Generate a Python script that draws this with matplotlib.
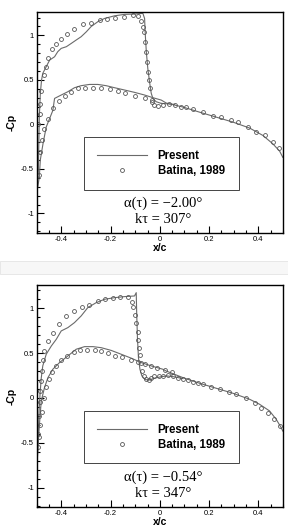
import matplotlib
matplotlib.use("Agg")
from matplotlib import pyplot as plt
from matplotlib.ticker import MultipleLocator
from matplotlib.patches import Rectangle

# ---- panel 1: alpha = -2.00 deg, k tau = 307 deg ----
p1_up_x = [-0.5, -0.498, -0.494, -0.492, -0.49, -0.486, -0.481, -0.476, -0.462, -0.448, -0.428, -0.415,
           -0.401, -0.38, -0.36, -0.34, -0.32, -0.299, -0.279, -0.252, -0.225, -0.184, -0.143, -0.103,
           -0.069, -0.062, -0.059, -0.055, -0.049, -0.042, -0.035, -0.028, -0.015, 0.006]
p1_up_y = [-0.75, -0.69, -0.52, -0.22, 0.08, 0.345, 0.498, 0.573, 0.648, 0.723, 0.76, 0.817,
           0.854, 0.873, 0.91, 0.948, 0.985, 1.04, 1.10, 1.154, 1.19, 1.22, 1.236, 1.24,
           1.247, 1.19, 1.0, 0.817, 0.63, 0.48, 0.35, 0.29, 0.255, 0.236]
p1_lo_x = [-0.5, -0.496, -0.49, -0.486, -0.475, -0.462, -0.435, -0.428, -0.401, -0.374, -0.347, -0.32,
           -0.286, -0.252, -0.218, -0.184, -0.143, -0.103, -0.062, -0.028, 0.006, 0.026, 0.094,
           0.161, 0.229, 0.297, 0.365, 0.419, 0.459, 0.487, 0.5]
p1_lo_y = [-0.75, -0.70, -0.59, -0.40, -0.217, -0.03, 0.157, 0.292, 0.33, 0.367, 0.412, 0.435,
           0.449, 0.449, 0.435, 0.412, 0.386, 0.36, 0.33, 0.30, 0.273, 0.24, 0.195,
           0.138, 0.082, 0.026, -0.041, -0.124, -0.217, -0.30, -0.37]
p1_up_tail_x = [0.006, 0.03, 0.06]
p1_up_tail_y = [0.236, 0.232, 0.225]

p1_bat_up_x = [-0.494, -0.488, -0.486, -0.482, -0.472, -0.464, -0.455, -0.439, -0.421, -0.401, -0.378,
               -0.347, -0.313, -0.279, -0.245, -0.214, -0.181, -0.146, -0.108, -0.089, -0.076, -0.067,
               -0.065, -0.062, -0.058, -0.054, -0.049, -0.046, -0.042, -0.033, -0.024, -0.008]
p1_bat_up_y = [0.0, 0.12, 0.23, 0.38, 0.55, 0.64, 0.75, 0.846, 0.902, 0.958, 1.015,
               1.067, 1.127, 1.142, 1.168, 1.183, 1.198, 1.21, 1.232, 1.22, 1.165, 1.098,
               1.034, 0.93, 0.817, 0.70, 0.59, 0.50, 0.404, 0.273, 0.217, 0.21]
p1_bat_lo_x = [-0.49, -0.486, -0.478, -0.469, -0.455, -0.435, -0.412, -0.387, -0.363, -0.333, -0.306,
               -0.272, -0.238, -0.204, -0.171, -0.141, -0.103, -0.062, -0.033]
p1_bat_lo_y = [-0.57, -0.31, -0.18, -0.05, 0.06, 0.18, 0.262, 0.322, 0.367, 0.404, 0.412,
               0.412, 0.404, 0.397, 0.374, 0.352, 0.322, 0.292, 0.255]
p1_bat_te_x = [0.012, 0.039, 0.06, 0.087, 0.107, 0.134, 0.175, 0.215, 0.25, 0.29, 0.317, 0.358,
               0.392, 0.426, 0.459, 0.484]
p1_bat_te_y = [0.221, 0.225, 0.213, 0.195, 0.20, 0.169, 0.138, 0.10, 0.082, 0.045, 0.026, -0.03,
               -0.087, -0.124, -0.199, -0.27]

# ---- panel 2: alpha = -0.54 deg, k tau = 347 deg ----
p2_up_x = [-0.5, -0.497, -0.494, -0.491, -0.487, -0.482, -0.476, -0.462, -0.441, -0.421, -0.401,
           -0.374, -0.347, -0.32, -0.293, -0.259, -0.225, -0.184, -0.143, -0.103, -0.096, -0.094,
           -0.091, -0.087, -0.081, -0.073, -0.059, -0.042, -0.022, 0.006, 0.03, 0.06, 0.094]
p2_up_y = [-0.75, -0.6, -0.4, -0.15, 0.05, 0.226, 0.357, 0.487, 0.58, 0.654, 0.747,
           0.784, 0.84, 0.914, 1.007, 1.062, 1.10, 1.118, 1.13, 1.137, 1.174, 0.93,
           0.67, 0.45, 0.32, 0.245, 0.204, 0.20, 0.22, 0.237, 0.245, 0.235, 0.215]
p2_lo_x = [-0.5, -0.496, -0.492, -0.487, -0.482, -0.469, -0.455, -0.435, -0.408, -0.374, -0.34,
           -0.306, -0.272, -0.238, -0.198, -0.157, -0.116, -0.076, -0.035, 0.012, 0.026, 0.094,
           0.161, 0.229, 0.297, 0.365, 0.405, 0.446, 0.473, 0.493, 0.5]
p2_lo_y = [-0.75, -0.6, -0.4, -0.2, -0.033, 0.115, 0.226, 0.32, 0.394, 0.468, 0.543,
           0.572, 0.572, 0.56, 0.53, 0.487, 0.443, 0.394, 0.357, 0.32, 0.30, 0.226,
           0.164, 0.108, 0.052, -0.015, -0.07, -0.145, -0.238, -0.33, -0.37]

p2_bat_up_x = [-0.494, -0.492, -0.489, -0.486, -0.482, -0.479, -0.474, -0.469, -0.455, -0.435, -0.412,
               -0.381, -0.35, -0.317, -0.286, -0.252, -0.221, -0.191, -0.16, -0.13, -0.114, -0.108,
               -0.103, -0.096, -0.089, -0.087, -0.084, -0.081, -0.078, -0.073, -0.065, -0.055, -0.045,
               -0.035, -0.022, -0.004]
p2_bat_up_y = [-0.4, -0.2, -0.05, 0.08, 0.19, 0.30, 0.42, 0.52, 0.63, 0.72, 0.82,
               0.91, 0.97, 1.01, 1.04, 1.08, 1.10, 1.11, 1.13, 1.13, 1.07, 1.01,
               0.92, 0.83, 0.74, 0.65, 0.56, 0.48, 0.39, 0.30, 0.245, 0.21, 0.20,
               0.225, 0.24, 0.245]
p2_bat_lo_x = [-0.494, -0.49, -0.486, -0.48, -0.472, -0.462, -0.452, -0.439, -0.421, -0.401, -0.378,
               -0.35, -0.324, -0.297, -0.265, -0.238, -0.209, -0.184, -0.154, -0.119, -0.089, -0.06,
               -0.035, -0.01, 0.02, 0.05]
p2_bat_lo_y = [-0.55, -0.44, -0.3, -0.16, 0.0, 0.12, 0.208, 0.293, 0.357, 0.42, 0.468,
               0.516, 0.535, 0.53, 0.53, 0.524, 0.505, 0.468, 0.457, 0.42, 0.405, 0.38,
               0.36, 0.335, 0.31, 0.29]
p2_bat_te_x = [0.012, 0.033, 0.053, 0.073, 0.094, 0.114, 0.134, 0.154, 0.175, 0.209, 0.243, 0.28,
               0.31, 0.351, 0.385, 0.412, 0.439, 0.466, 0.487]
p2_bat_te_y = [0.245, 0.256, 0.245, 0.226, 0.208, 0.197, 0.182, 0.171, 0.152, 0.126, 0.097, 0.071,
               0.041, 0.004, -0.052, -0.108, -0.164, -0.238, -0.312]

x_ticks = [-0.4, -0.2, 0, 0.2, 0.4]
x_ticklabels = ["-0.4", "-0.2", "0", "0.2", "0.4"]
y_ticks = [-1, -0.5, 0, 0.5, 1]
y_ticklabels = ["-1", "-0.5", "0", "0.5", "1"]

panels = [
    dict(up=(p1_up_x, p1_up_y), lo=(p1_lo_x, p1_lo_y), tail=(p1_up_tail_x, p1_up_tail_y),
         bat=[(p1_bat_up_x, p1_bat_up_y), (p1_bat_lo_x, p1_bat_lo_y), (p1_bat_te_x, p1_bat_te_y)],
         alpha="\u03b1(\u03c4) = \u22122.00\u00b0", ktau="k\u03c4 = 307\u00b0"),
    dict(up=(p2_up_x, p2_up_y), lo=(p2_lo_x, p2_lo_y), tail=None,
         bat=[(p2_bat_up_x, p2_bat_up_y), (p2_bat_lo_x, p2_bat_lo_y), (p2_bat_te_x, p2_bat_te_y)],
         alpha="\u03b1(\u03c4) = \u22120.54\u00b0", ktau="k\u03c4 = 347\u00b0"),
]

fig = plt.figure(figsize=(2.88, 5.32), dpi=100)
fig.patch.set_facecolor("white")

# grey strip between the two pictures
fig.patches.append(Rectangle((0, 1 - 274.3 / 532), 1, 13.6 / 532, transform=fig.transFigure,
                             facecolor="#f7f7f7", edgecolor="#e4e4e4", lw=0.6, zorder=0))

axes_pos = [[0.128, 0.562, 0.854, 0.415], [0.128, 0.0464, 0.854, 0.418]]

line_c = "#6a6a6a"
mark_c = "#555555"

for pos, p in zip(axes_pos, panels):
    ax = fig.add_axes(pos)
    ax.plot(*p["up"], color=line_c, lw=0.8, label="Present")
    ax.plot(*p["lo"], color=line_c, lw=0.8)
    if p["tail"] is not None:
        ax.plot(*p["tail"], color=line_c, lw=0.8)
    for i, (bx, by) in enumerate(p["bat"]):
        ax.plot(bx, by, ls="none", marker="o", ms=2.8, mfc="none", mec=mark_c, mew=0.6,
                label="Batina, 1989" if i == 0 else None)

    ax.set_xlim(-0.5, 0.5)
    ax.set_ylim(-1.22, 1.26)
    ax.set_xticks(x_ticks)
    ax.set_xticklabels(x_ticklabels)
    ax.set_yticks(y_ticks)
    ax.set_yticklabels(y_ticklabels)
    ax.xaxis.set_minor_locator(MultipleLocator(0.05))
    ax.yaxis.set_minor_locator(MultipleLocator(0.1))
    ax.tick_params(which="both", direction="in", top=False, right=False, width=0.8,
                   labelsize=5.5, pad=2)
    ax.tick_params(which="major", length=5)
    ax.tick_params(which="minor", length=2.5)
    for lab in ax.get_xticklabels() + ax.get_yticklabels():
        lab.set_family("Liberation Sans")
    for s in ax.spines.values():
        s.set_linewidth(1.0)

    ax.set_xlabel("x/c", fontsize=7.5, fontweight="bold", family="Liberation Sans", labelpad=0)
    ax.set_ylabel("-Cp", fontsize=7.5, fontweight="bold", family="Liberation Sans", labelpad=3)

    leg = ax.legend(loc="center", bbox_to_anchor=(0.191, 0.19, 0.63, 0.249), mode="expand",
                    borderaxespad=0, fancybox=False, framealpha=1, edgecolor="#444444",
                    borderpad=1.1, labelspacing=0.25, handlelength=4.4, handletextpad=0.9,
                    prop={"family": "Liberation Sans", "weight": "bold", "size": 8.3})
    leg.get_frame().set_linewidth(0.7)

    ax.text(0.512, 0.136, p["alpha"], transform=ax.transAxes, ha="center", va="center",
            fontsize=10.5, family="Liberation Serif")
    ax.text(0.512, 0.06, p["ktau"], transform=ax.transAxes, ha="center", va="center",
            fontsize=10.5, family="Liberation Serif")

fig.savefig("out.png", dpi=100)
